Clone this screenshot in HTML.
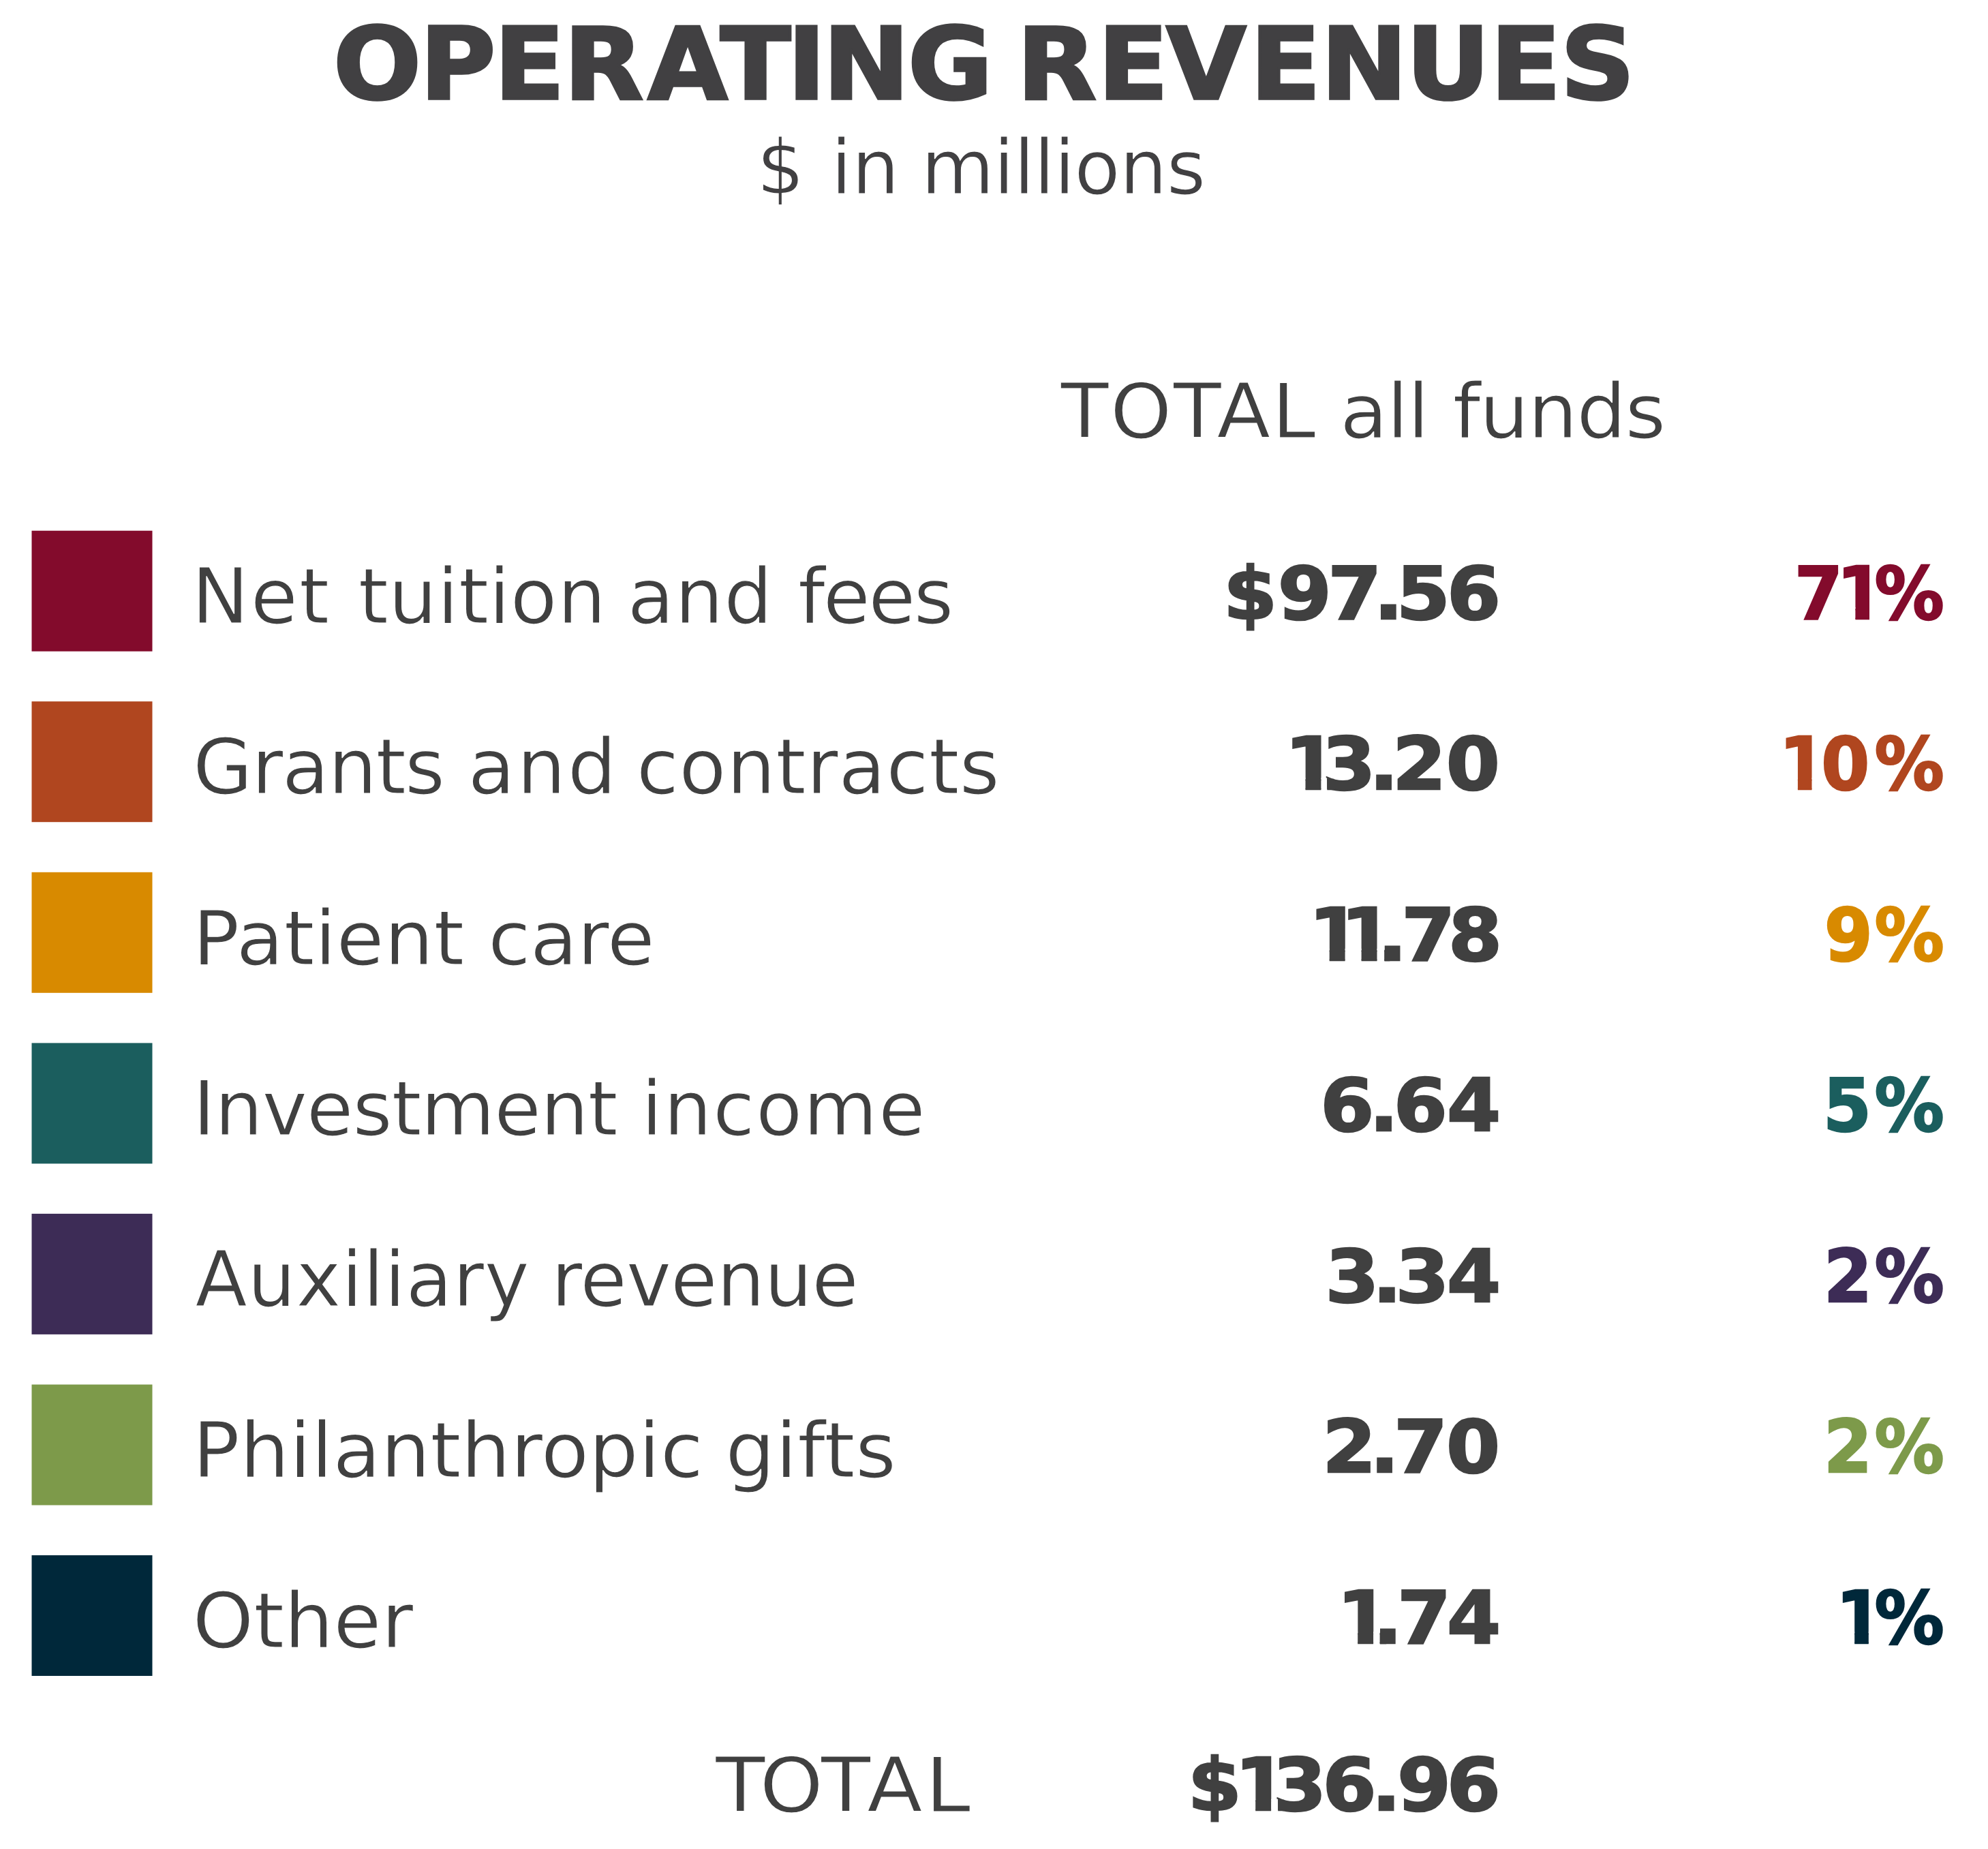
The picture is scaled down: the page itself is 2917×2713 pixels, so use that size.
<!DOCTYPE html>
<html lang="en">
<head>
<meta charset="utf-8">
<title>Operating Revenues</title>
<style>
html,body{margin:0;padding:0;background:#fff;}
body{width:2917px;height:2713px;overflow:hidden;}
svg{display:block;}
text{font-family:"DejaVu Sans","Liberation Sans",sans-serif;stroke-linejoin:miter;stroke-miterlimit:3;}
.b{font-weight:bold;}
</style>
</head>
<body>
<svg width="2917" height="2713" viewBox="0 0 2917 2713">
<rect x="46.5" y="778.7" width="177.0" height="177.0" fill="#830B2C"/>
<rect x="46.5" y="1029.2" width="177.0" height="177.0" fill="#B0461F"/>
<rect x="46.5" y="1279.8" width="177.0" height="177.0" fill="#D88A00"/>
<rect x="46.5" y="1530.4" width="177.0" height="177.0" fill="#1B5E5E"/>
<rect x="46.5" y="1780.9" width="177.0" height="177.0" fill="#3D2C56"/>
<rect x="46.5" y="2031.5" width="177.0" height="177.0" fill="#7D9A4A"/>
<rect x="46.5" y="2282.0" width="177.0" height="177.0" fill="#00283A"/>
<text transform="translate(0 145.25) scale(1.0400 1)" x="470.1 592.4 697.1 795.4 913.8 1016.0 1110.8 1161.1 1280.8 1357.7 1434.6 1548.9 1645.3 1763.8 1863.4 1983.6 2102.7 2201.4" font-size="146.09" fill="#414042" class="b" stroke="#414042" stroke-width="3.5">OPERATING REVENUES</text>
<text transform="translate(0 283.90) scale(0.9958 1)" x="1115.0 1169.6 1224.3 1254.9 1306.0 1357.1 1463.9 1493.7 1523.5 1553.3 1583.0 1649.8 1719.0" font-size="110.70" fill="#414042" stroke="#fff" stroke-width="1.2">$ in millions</text>
<text transform="translate(0 641.70) scale(1.0375 1)" x="1500.3 1570.2 1659.6 1720.9 1798.9 1846.9 1895.0 1961.3 1990.5 2022.7 2054.8 2092.3 2160.9 2229.6 2298.3" font-size="110.70" fill="#404040" stroke="#fff" stroke-width="1.2">TOTAL all funds</text>
<text transform="translate(0 913.80) scale(1.0085 1)" x="279.0 364.6 435.4 478.4 521.4 565.3 636.2 667.4 711.3 742.5 811.0 861.9 912.8 981.9 1053.4 1107.2 1161.1 1197.6 1263.5 1329.4" font-size="111.39" fill="#404040" stroke="#fff" stroke-width="1.2">Net tuition and fees</text>
<text transform="translate(0 1164.35) scale(1.0164 1)" x="278.4 363.0 407.1 473.7 542.5 584.5 630.0 675.5 746.2 819.2 868.9 918.6 980.3 1049.0 1120.0 1164.2 1210.4 1279.2 1340.9 1385.0" font-size="111.39" fill="#404040" stroke="#fff" stroke-width="1.2">Grants and contracts</text>
<text transform="translate(0 1414.90) scale(1.0227 1)" x="276.4 338.9 407.4 451.4 482.6 551.4 622.3 661.1 700.0 760.6 828.3 871.1" font-size="111.39" fill="#404040" stroke="#fff" stroke-width="1.2">Patient care</text>
<text transform="translate(0 1665.45) scale(1.0014 1)" x="282.5 314.5 384.2 449.2 516.8 573.9 616.7 724.3 791.9 861.6 900.7 939.8 972.3 1044.6 1107.4 1177.2 1287.3" font-size="111.39" fill="#404040" stroke="#fff" stroke-width="1.2">Investment income</text>
<text transform="translate(0 1916.00) scale(0.9996 1)" x="286.6 363.4 434.6 501.1 532.7 564.2 595.8 664.7 711.1 760.1 809.2 851.7 919.4 984.5 1052.2 1122.0 1191.8" font-size="111.39" fill="#404040" stroke="#fff" stroke-width="1.2">Auxiliary revenue</text>
<text transform="translate(0 2166.55) scale(1.0331 1)" x="273.5 340.5 411.0 441.8 472.5 540.7 611.1 654.6 725.0 768.2 836.2 906.8 937.6 983.9 1030.2 1101.4 1132.8 1170.5 1214.7" font-size="111.39" fill="#404040" stroke="#fff" stroke-width="1.2">Philanthropic gifts</text>
<text transform="translate(282.44 2417.10) scale(1.0244 1)" font-size="111.39" fill="#404040" stroke="#fff" stroke-width="1.2">Other</text>
<text transform="translate(0 2658.20) scale(1.0721 1)" x="979.3 1039.5 1123.7 1186.7 1266.4" font-size="110.84" fill="#404040" stroke="#fff" stroke-width="1.2">TOTAL</text>
<text transform="translate(0 907.65) scale(1.0700 1)" x="1677.6 1752.0 1820.9 1884.0 1914.8 1984.0" font-size="106.31" fill="#404040" class="b" stroke="#404040" stroke-width="2.5">$97.56</text>
<clipPath id="c_num1"><rect x="0" y="0" width="2917" height="1141.4"/><rect x="0" y="1162.5" width="2917" height="1550.5"/><rect x="0.0" y="1140.9" width="1894.7" height="22.0"/><rect x="1915.5" y="1140.9" width="22.9" height="22.0"/><rect x="1947.3" y="1140.9" width="969.7" height="22.0"/></clipPath>
<g clip-path="url(#c_num1)"><text transform="translate(0 1158.20) scale(1.0700 1)" x="1761.4 1812.6 1877.5 1909.3 1983.0" font-size="106.31" fill="#404040" class="b" stroke="#404040" stroke-width="2.5">13.20</text></g>
<clipPath id="c_num2"><rect x="0" y="0" width="2917" height="1392.0"/><rect x="0" y="1413.0" width="2917" height="1300.0"/><rect x="0.0" y="1391.5" width="1929.9" height="22.0"/><rect x="1950.7" y="1391.5" width="22.9" height="22.0"/><rect x="1997.6" y="1391.5" width="22.9" height="22.0"/><rect x="2031.2" y="1391.5" width="885.8" height="22.0"/></clipPath>
<g clip-path="url(#c_num2)"><text transform="translate(0 1408.75) scale(1.0700 1)" x="1794.3 1838.1 1889.2 1921.8 1986.1" font-size="106.31" fill="#404040" class="b" stroke="#404040" stroke-width="2.5">11.78</text></g>
<text transform="translate(0 1659.30) scale(1.0700 1)" x="1810.6 1877.7 1911.0 1984.1" font-size="106.31" fill="#404040" class="b" stroke="#404040" stroke-width="2.5">6.64</text>
<text transform="translate(0 1909.85) scale(1.0700 1)" x="1817.2 1882.1 1913.5 1984.1" font-size="106.31" fill="#404040" class="b" stroke="#404040" stroke-width="2.5">3.34</text>
<text transform="translate(0 2160.40) scale(1.0700 1)" x="1813.4 1878.5 1911.3 1983.1" font-size="106.31" fill="#404040" class="b" stroke="#404040" stroke-width="2.5">2.70</text>
<clipPath id="c_num6"><rect x="0" y="0" width="2917" height="2394.2"/><rect x="0" y="2415.2" width="2917" height="297.8"/><rect x="0.0" y="2393.7" width="1971.4" height="22.0"/><rect x="1992.2" y="2393.7" width="22.9" height="22.0"/><rect x="2024.6" y="2393.7" width="892.4" height="22.0"/></clipPath>
<g clip-path="url(#c_num6)"><text transform="translate(0 2410.95) scale(1.0700 1)" x="1833.1 1883.0 1915.8 1984.1" font-size="106.31" fill="#404040" class="b" stroke="#404040" stroke-width="2.5">1.74</text></g>
<clipPath id="c_numT"><rect x="0" y="0" width="2917" height="2639.7"/><rect x="0" y="2660.7" width="2917" height="52.3"/><rect x="0.0" y="2639.2" width="1821.3" height="22.0"/><rect x="1842.2" y="2639.2" width="22.9" height="22.0"/><rect x="1875.2" y="2639.2" width="1041.8" height="22.0"/></clipPath>
<g clip-path="url(#c_numT)"><text transform="translate(0 2656.45) scale(1.0700 1)" x="1628.7 1692.9 1745.0 1813.6 1880.8 1916.0 1983.9" font-size="106.31" fill="#404040" class="b" stroke="#404040" stroke-width="2.5">$136.96</text></g>
<clipPath id="c_pct0"><rect x="0" y="0" width="2917" height="890.9"/><rect x="0" y="911.9" width="2917" height="1801.1"/><rect x="0.0" y="890.4" width="2703.5" height="22.0"/><rect x="2722.4" y="890.4" width="20.6" height="22.0"/><rect x="2761.9" y="890.4" width="155.1" height="22.0"/></clipPath>
<g clip-path="url(#c_pct0)"><text transform="translate(0 907.65) scale(0.9600 1)" x="2742.8 2807.0 2865.1" font-size="106.31" fill="#830B2C" class="b" stroke="#830B2C" stroke-width="2.5">71%</text></g>
<clipPath id="c_pct1"><rect x="0" y="0" width="2917" height="1141.4"/><rect x="0" y="1162.5" width="2917" height="1550.5"/><rect x="0.0" y="1140.9" width="2619.0" height="22.0"/><rect x="2637.9" y="1140.9" width="20.6" height="22.0"/><rect x="2677.5" y="1140.9" width="239.5" height="22.0"/></clipPath>
<g clip-path="url(#c_pct1)"><text transform="translate(0 1158.20) scale(0.9600 1)" x="2719.0 2783.6 2865.1" font-size="106.31" fill="#B0461F" class="b" stroke="#B0461F" stroke-width="2.5">10%</text></g>
<text transform="translate(0 1408.75) scale(0.9600 1)" x="2788.4 2865.1" font-size="106.31" fill="#D88A00" class="b" stroke="#D88A00" stroke-width="2.5">9%</text>
<text transform="translate(0 1659.30) scale(0.9600 1)" x="2786.4 2865.1" font-size="106.31" fill="#1B5E5E" class="b" stroke="#1B5E5E" stroke-width="2.5">5%</text>
<text transform="translate(0 1909.85) scale(0.9600 1)" x="2787.4 2865.1" font-size="106.31" fill="#3D2C56" class="b" stroke="#3D2C56" stroke-width="2.5">2%</text>
<text transform="translate(0 2160.40) scale(0.9600 1)" x="2787.4 2865.1" font-size="106.31" fill="#7D9A4A" class="b" stroke="#7D9A4A" stroke-width="2.5">2%</text>
<clipPath id="c_pct6"><rect x="0" y="0" width="2917" height="2394.2"/><rect x="0" y="2415.2" width="2917" height="297.8"/><rect x="0.0" y="2393.7" width="2702.3" height="22.0"/><rect x="2721.2" y="2393.7" width="20.6" height="22.0"/><rect x="2760.8" y="2393.7" width="156.2" height="22.0"/></clipPath>
<g clip-path="url(#c_pct6)"><text transform="translate(0 2410.95) scale(0.9600 1)" x="2805.8 2865.1" font-size="106.31" fill="#00283A" class="b" stroke="#00283A" stroke-width="2.5">1%</text></g>
</svg>
</body>
</html>
